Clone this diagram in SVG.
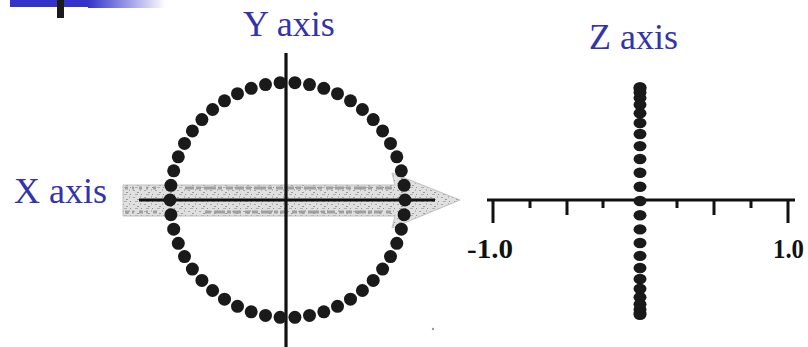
<svg xmlns="http://www.w3.org/2000/svg" xmlns:xlink="http://www.w3.org/1999/xlink" width="808" height="347" viewBox="0 0 808 347">
<style>
.lbl{font-family:"Liberation Serif","Times New Roman",serif;font-size:36px;fill:#3333aa}
.num{font-family:"Liberation Serif","Times New Roman",serif;font-size:27px;font-weight:bold;fill:#111}
.ax{stroke:#111;stroke-width:3.2;fill:none}
.tk{stroke:#111;stroke-width:3}
.cd{fill:#1a1a1a}
.tex{stroke:#a0a0a0;stroke-width:3;fill:none}
</style>
<defs>
<linearGradient id="fade" x1="0" y1="0" x2="1" y2="0">
<stop offset="0" stop-color="#3333cc"/>
<stop offset="1" stop-color="#3333cc" stop-opacity="0"/>
</linearGradient>
<pattern id="spk" width="11" height="7" patternUnits="userSpaceOnUse">
<rect width="11" height="7" fill="#e0e0e0"/>
<rect x="1" y="1" width="2" height="1" fill="#a8a8a8"/>
<rect x="5" y="3" width="2" height="1" fill="#9a9a9a"/>
<rect x="8" y="0" width="1" height="2" fill="#b5b5b5"/>
<rect x="3" y="5" width="3" height="1" fill="#b0b0b0"/>
<rect x="9" y="5" width="1" height="1" fill="#8c8c8c"/>
</pattern>
<circle id="dot" r="6.5" class="cd"/>
<ellipse id="zdot" rx="6.5" ry="5.2" class="cd"/>
</defs>

<g id="header">
<rect x="10" y="0" width="78" height="7" fill="#3333cc"/>
<rect x="88" y="0" width="78" height="8" fill="url(#fade)"/>
<rect x="57" y="0" width="7" height="18" fill="#1a1a1a"/>
</g>

<g id="x-arrow">
<polygon points="123,185 395,185 392,173 460,200 392,228 395,216 123,216" fill="url(#spk)" stroke="#c0c0c0" stroke-width="1"/>
<line class="tex" x1="185" y1="188" x2="392" y2="188" stroke-dasharray="9 2 5 3 12 2 4 4 7 2"/>
<line class="tex" x1="205" y1="212" x2="392" y2="212" stroke-dasharray="6 3 11 2 4 2 8 4 5 2"/>
<line class="tex" x1="125" y1="188" x2="160" y2="188" stroke-dasharray="3 4 2 5" stroke="#c4c4c4"/>
<line class="tex" x1="125" y1="212" x2="160" y2="212" stroke-dasharray="4 3 2 5" stroke="#c4c4c4"/>
</g>

<g id="connectors">
<line class="ax" x1="286" y1="53" x2="286" y2="347"/>
<line class="ax" x1="139" y1="200" x2="435" y2="200"/>
<line class="ax" x1="487" y1="200" x2="795" y2="200"/>
<line class="tk" x1="493" y1="200" x2="493" y2="223"/>
<line class="tk" x1="530" y1="200" x2="530" y2="208"/>
<line class="tk" x1="567" y1="200" x2="567" y2="215"/>
<line class="tk" x1="603" y1="200" x2="603" y2="208"/>
<line class="tk" x1="677" y1="200" x2="677" y2="208"/>
<line class="tk" x1="714" y1="200" x2="714" y2="215"/>
<line class="tk" x1="751" y1="200" x2="751" y2="208"/>
<line class="tk" x1="788" y1="200" x2="788" y2="223"/>
</g>

<g id="circle-dots">
<use href="#dot" x="294.9" y="82.7"/><use href="#dot" x="309.5" y="84.6"/><use href="#dot" x="323.8" y="88.3"/><use href="#dot" x="337.5" y="93.7"/><use href="#dot" x="350.5" y="100.8"/><use href="#dot" x="362.4" y="109.5"/><use href="#dot" x="373.2" y="119.6"/><use href="#dot" x="382.6" y="130.9"/><use href="#dot" x="390.5" y="143.4"/><use href="#dot" x="396.8" y="156.8"/><use href="#dot" x="401.3" y="170.8"/><use href="#dot" x="404.1" y="185.3"/>
<use href="#dot" x="405" y="200"/>
<use href="#dot" x="404.1" y="214.7"/><use href="#dot" x="401.3" y="229.2"/><use href="#dot" x="396.8" y="243.3"/><use href="#dot" x="390.5" y="256.6"/><use href="#dot" x="382.6" y="269.1"/><use href="#dot" x="373.2" y="280.4"/><use href="#dot" x="362.4" y="290.5"/><use href="#dot" x="350.5" y="299.2"/><use href="#dot" x="337.5" y="306.3"/><use href="#dot" x="323.8" y="311.8"/><use href="#dot" x="309.5" y="315.4"/><use href="#dot" x="294.9" y="317.3"/>
<use href="#dot" x="280.1" y="317.3"/><use href="#dot" x="265.5" y="315.4"/><use href="#dot" x="251.2" y="311.8"/><use href="#dot" x="237.5" y="306.3"/><use href="#dot" x="224.5" y="299.2"/><use href="#dot" x="212.6" y="290.5"/><use href="#dot" x="201.9" y="280.4"/><use href="#dot" x="192.4" y="269.1"/><use href="#dot" x="184.5" y="256.6"/><use href="#dot" x="178.3" y="243.3"/><use href="#dot" x="173.7" y="229.2"/><use href="#dot" x="170.9" y="214.7"/>
<use href="#dot" x="170" y="200"/>
<use href="#dot" x="170.9" y="185.3"/><use href="#dot" x="173.7" y="170.8"/><use href="#dot" x="178.3" y="156.8"/><use href="#dot" x="184.5" y="143.4"/><use href="#dot" x="192.4" y="130.9"/><use href="#dot" x="201.9" y="119.6"/><use href="#dot" x="212.6" y="109.5"/><use href="#dot" x="224.5" y="100.8"/><use href="#dot" x="237.5" y="93.7"/><use href="#dot" x="251.2" y="88.3"/><use href="#dot" x="265.5" y="84.6"/><use href="#dot" x="280.1" y="82.7"/>
</g>

<g id="z-dots">
<use href="#zdot" x="640" y="87.2"/><use href="#zdot" x="640" y="89"/><use href="#zdot" x="640" y="92.6"/><use href="#zdot" x="640" y="97.9"/><use href="#zdot" x="640" y="104.8"/><use href="#zdot" x="640" y="113.2"/><use href="#zdot" x="640" y="123"/><use href="#zdot" x="640" y="134"/><use href="#zdot" x="640" y="146.1"/><use href="#zdot" x="640" y="159"/><use href="#zdot" x="640" y="172.7"/><use href="#zdot" x="640" y="186.7"/>
<use href="#zdot" x="640" y="201"/>
<use href="#zdot" x="640" y="215.3"/><use href="#zdot" x="640" y="229.4"/><use href="#zdot" x="640" y="243"/><use href="#zdot" x="640" y="255.9"/><use href="#zdot" x="640" y="268"/><use href="#zdot" x="640" y="279"/><use href="#zdot" x="640" y="288.8"/><use href="#zdot" x="640" y="297.2"/><use href="#zdot" x="640" y="304.2"/><use href="#zdot" x="640" y="309.4"/><use href="#zdot" x="640" y="313"/><use href="#zdot" x="640" y="314.8"/>
</g>

<g id="label-y"><text class="lbl" x="243" y="36">Y axis</text></g>
<g id="label-x"><text class="lbl" x="14" y="203">X axis</text></g>
<g id="label-z"><text class="lbl" x="589" y="49">Z axis</text></g>
<g id="label-min"><text class="num" x="467" y="258" textLength="46" lengthAdjust="spacingAndGlyphs">-1.0</text></g>
<g id="label-max"><text class="num" x="773" y="258" textLength="31" lengthAdjust="spacingAndGlyphs">1.0</text></g>
<circle cx="433" cy="329" r="1.2" fill="#9a9a9a"/>
</svg>
